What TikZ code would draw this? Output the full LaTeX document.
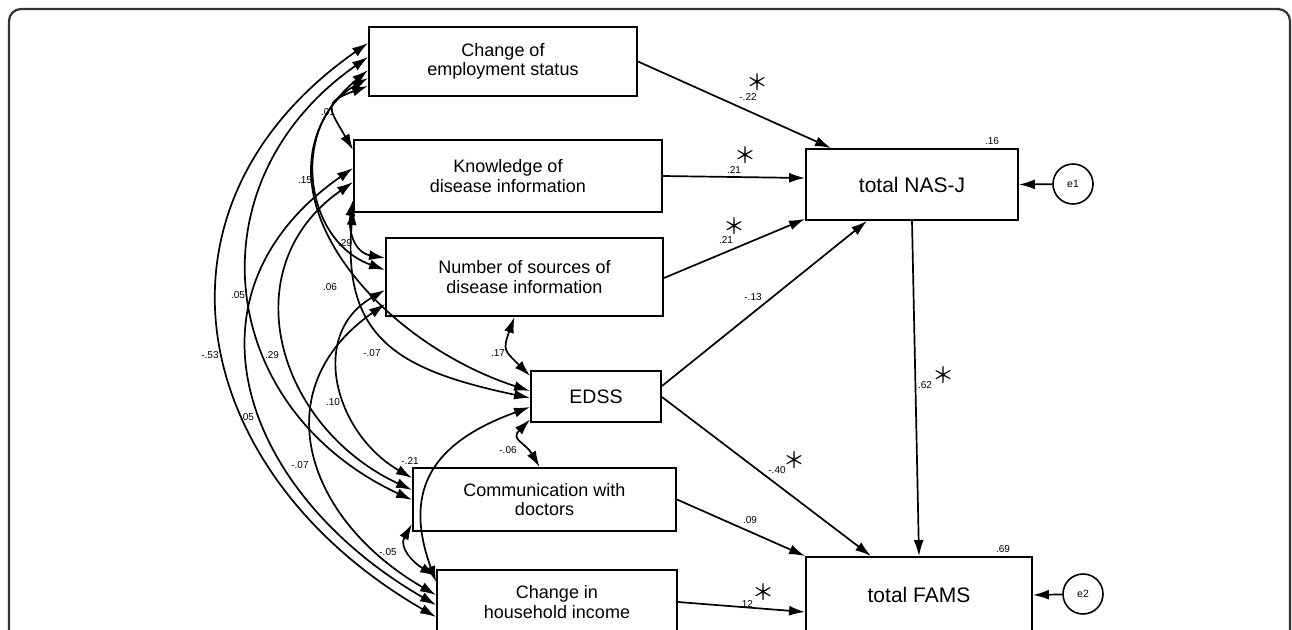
\documentclass[tikz,border=0pt]{standalone}
\usepackage{fontspec}
\setmainfont{Liberation Sans}
\newfontfamily\cjk{Noto Sans CJK JP}
\usepackage{tikz}
\usetikzlibrary{arrows.meta}
\tikzset{>={Latex[length=16pt,width=10pt]}}
\tikzstyle{var} = [rectangle, draw=black, line width=1.9pt, align=center, inner sep=0, font=\fontsize{18}{19.5}\selectfont]
\tikzstyle{outcome} = [var, font=\fontsize{21}{24}\selectfont]
\tikzstyle{err} = [circle, draw=black, line width=1.6pt, minimum size=40pt, inner sep=0, font=\fontsize{10.5}{11}\selectfont]
\tikzstyle{coef} = [inner sep=1, font=\fontsize{10}{10}\selectfont]
\tikzstyle{sig} = [inner sep=0, font=\cjk\fontsize{22}{22}\selectfont]
\tikzstyle{reg} = [->, line width=1.7pt]
\tikzstyle{cov} = [<->, line width=1.7pt]

\begin{document}
\begin{tikzpicture}[x=1pt, y=1pt]
\useasboundingbox (0, 0) rectangle (1292, -629);
\clip (0, 0) rectangle (1292, -629);
\draw [line width=2.2pt, black!80, rounded corners=12pt] (9, -9) rectangle (1290, -700);

% observed variables
\node [var, minimum width=268pt, minimum height=69pt] (emp) at (503, -61.5) {Change of\\employment status};
\node [var, minimum width=308pt, minimum height=72pt] (know) at (508, -176) {Knowledge of\\disease information};
\node [var, minimum width=277pt, minimum height=78pt] (num) at (524.5, -277) {Number of sources of\\disease information};
\node [var, minimum width=130pt, minimum height=51pt, font=\fontsize{19.5}{22}\selectfont] (edss) at (596, -396.5) {EDSS};
\node [var, minimum width=263pt, minimum height=63pt] (comm) at (544.5, -499.5) {Communication with\\doctors};
\node [var, minimum width=240pt, minimum height=64pt] (inc) at (557, -602) {Change in\\household income};
\node [outcome, minimum width=212pt, minimum height=71pt] (nas) at (912, -184.5) {total NAS-J};
\node [outcome, minimum width=226pt, minimum height=76pt] (fams) at (919, -595) {total FAMS};
\node [err] (e1) at (1073, -184) {e1};
\node [err] (e2) at (1083, -594) {e2};

% paths
\draw [reg] (emp.east) -- ([xshift=26pt]nas.north west);
\draw [reg] (know.east) -- ([yshift=6.5pt]nas.west);
\draw [reg] ([yshift=-1pt]num.east) -- ([yshift=2pt]nas.south west);
\draw [reg] ([yshift=10.5pt]edss.east) -- ([xshift=62pt]nas.south west);
\draw [reg] ([yshift=-0.5pt]edss.east) -- ([xshift=66pt]fams.north west);
\draw [reg] (comm.east) -- (fams.north west);
\draw [reg] (inc.east) -- ([yshift=-17pt]fams.west);
\draw [reg] (nas.south) -- (fams.north);
\draw [reg] (e1) -- (nas.east);
\draw [reg] (e2) -- (fams.east);

% covariances
\draw [cov] ([yshift=-24.5pt]emp.west) to [out=200, in=120, looseness=1.9] ([yshift=26pt]know.west);
\draw [cov] ([yshift=-16.5pt]emp.west) to [out=210, in=160, looseness=1.18] ([yshift=7pt]num.west);
\draw [cov] ([yshift=-8.5pt]emp.west) to [out=220, in=162, looseness=1.2] ([yshift=5.5pt]edss.west);
\draw [cov] ([yshift=4.5pt]emp.west) to [out=215, in=155, looseness=1.25] ([yshift=-0.5pt]comm.west);
\draw [cov] ([yshift=18.5pt]emp.west) to [out=215, in=150, looseness=1.27] ([yshift=-15pt]inc.west);
\draw [cov] ([yshift=-24pt]know.west) to [out=260, in=170, looseness=1.2] ([yshift=19pt]num.west);
\draw [cov] ([yshift=-33pt]know.west) to [out=265, in=168, looseness=1.3] ([yshift=-1.5pt]edss.west);
\draw [cov] ([yshift=-6pt]know.west) to [out=215, in=155, looseness=1.22] ([yshift=9.5pt]comm.west);
\draw [cov] ([yshift=8pt]know.west) to [out=215, in=150, looseness=1.28] ([yshift=-3pt]inc.west);
\draw [cov] ([yshift=-13pt]num.west) to [out=210, in=150, looseness=1.2] ([yshift=21.5pt]comm.west);
\draw [cov] ([yshift=-27pt]num.west) to [out=215, in=150, looseness=1.3] ([yshift=7pt]inc.west);
\draw [cov] ([xshift=-10pt]num.south) to [out=250, in=135, looseness=1.5] ([yshift=20.5pt]edss.west);
\draw [cov] ([yshift=-23pt]edss.west) to [out=225, in=120, looseness=1.5] ([xshift=-5pt]comm.north);
\draw [cov] ([yshift=-10.5pt]edss.west) to [out=200, in=110, looseness=1.3] ([yshift=20pt]inc.west);
\draw [cov] ([yshift=-24.5pt]comm.west) to [out=240, in=150, looseness=1.2] ([yshift=26pt]inc.west);

% covariance estimates
\node [coef] (k1) at (328, -112) {.01};
\node [coef] (k2) at (305, -180) {.15};
\node [coef] (k3) at (345, -243) {.29};
\node [coef] (k4) at (330, -287) {.06};
\node [coef] (k5) at (238, -295) {.05};
\node [coef] (k6) at (210, -355) {-.53};
\node [coef] (k7) at (272, -355) {.29};
\node [coef] (k8) at (247, -417) {.05};
\node [coef] (k9) at (372, -353) {-.07};
\node [coef] (k10) at (333, -402) {.10};
\node [coef] (k11) at (300, -465) {-.07};
\node [coef] (k12) at (498, -353) {.17};
\node [coef] (k13) at (508, -450) {-.06};
\node [coef] (k14) at (410, -461) {-.21};
\node [coef] (k15) at (388, -552) {-.05};

% path estimates
\node [coef] (b1) at (748, -97) {-.22};
\node [sig] (s1) at (757, -82) {＊};
\node [coef] (b2) at (734, -170) {.21};
\node [sig] (s2) at (745, -155) {＊};
\node [coef] (b3) at (726, -240) {.21};
\node [sig] (s3) at (734, -226) {＊};
\node [coef] (b4) at (753, -297) {-.13};
\node [coef] (b5) at (925, -385) {.62};
\node [sig] (s5) at (943, -375) {＊};
\node [coef] (b6) at (777, -470) {-.40};
\node [sig] (s6) at (794, -460) {＊};
\node [coef] (b7) at (750, -520) {.09};
\node [coef] (b8) at (746, -604) {.12};
\node [sig] (s8) at (763, -592) {＊};
\node [coef] (r1) at (992, -141) {.16};
\node [coef] (r2) at (1003, -549) {.69};
\end{tikzpicture}
\end{document}
